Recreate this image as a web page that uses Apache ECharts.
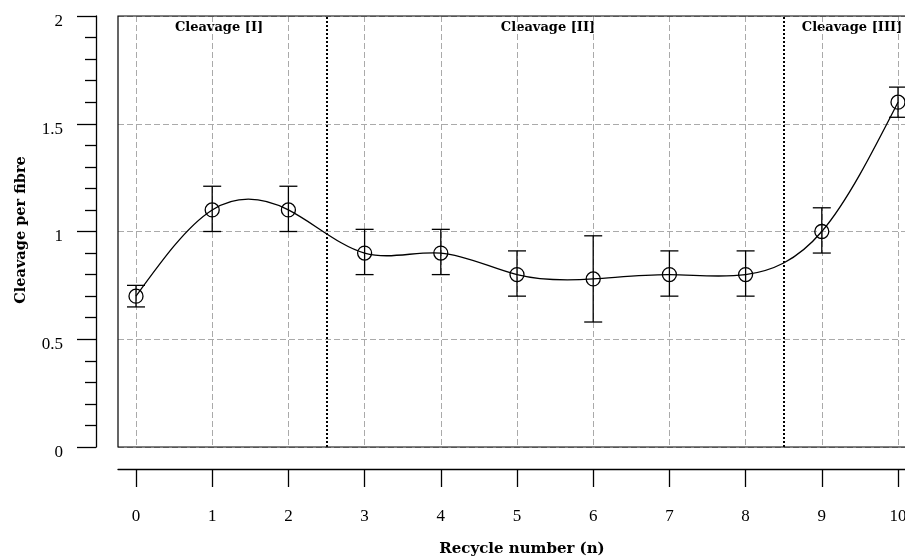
<!DOCTYPE html>
<html><head><meta charset="utf-8">
<script src="https://cdn.jsdelivr.net/npm/echarts@6/dist/echarts.min.js"></script>
<style>html,body{margin:0;padding:0;background:#fff}#c{width:905px;height:560px}</style>
</head><body><div id="c"></div>
<script>
const cycles = [0,1,2,3,4,5,6,7,8,9,10];
const meanVals = [0.70,1.10,1.10,0.90,0.90,0.80,0.78,0.80,0.80,1.00,1.60];
const lowVals  = [0.65,1.00,1.00,0.80,0.80,0.70,0.58,0.70,0.70,0.90,1.53];
const highVals = [0.75,1.21,1.21,1.01,1.01,0.91,0.98,0.91,0.91,1.11,1.67];
const regionBounds = [2.5, 8.5];
const regionLabels = ['Cleavage [I]','Cleavage [II]','Cleavage [III]'];
const yTicks = ['0','0.5','1','1.5','2'];

const FONT = 'Liberation Serif';
const TFONT = 'DejaVu Serif';
const chart = echarts.init(document.getElementById('c'));
const pts = cycles.map((c,i)=>[c, meanVals[i]]);
const errData = cycles.map((c,i)=>[c, meanVals[i], lowVals[i], highVals[i]]);

// natural cubic spline slopes (uniform spacing) for the fitted curve
function splineSlopes(y){
  const n = y.length - 1;
  const M = new Array(n+1).fill(0);
  if (n >= 2){
    const a=[],b=[],c=[],d=[];
    for(let i=1;i<n;i++){a.push(1);b.push(4);c.push(1);d.push(6*(y[i+1]-2*y[i]+y[i-1]));}
    const m=b.length;
    for(let i=1;i<m;i++){const w=a[i]/b[i-1];b[i]-=w*c[i-1];d[i]-=w*d[i-1];}
    const s=new Array(m);
    s[m-1]=d[m-1]/b[m-1];
    for(let i=m-2;i>=0;i--) s[i]=(d[i]-c[i]*s[i+1])/b[i];
    for(let i=0;i<m;i++) M[i+1]=s[i];
  }
  const sl=[];
  for(let i=0;i<n;i++) sl.push((y[i+1]-y[i])-(2*M[i]+M[i+1])/6);
  sl.push((y[n]-y[n-1])+(M[n-1]+2*M[n])/6);
  return sl;
}
const slopes = splineSlopes(meanVals);

chart.setOption({
  animation:false,
  backgroundColor:'#fff',
  grid:[
    {left:136, right:7, top:16, bottom:113, containLabel:false, outerBoundsMode:'none'},
    {left:118, width:800, top:16, bottom:113, containLabel:false, outerBoundsMode:'none', show:true, borderColor:'#000', borderWidth:1.2, backgroundColor:'transparent', z:5}
  ],
  xAxis:[
    {gridIndex:0, type:'value', min:0, max:10, interval:1, offset:22,
     axisLine:{show:false, onZero:false},
     axisTick:{show:true, length:18, lineStyle:{color:'#000', width:1.3}},
     axisLabel:{margin:39, color:'#000', fontFamily:FONT, fontSize:17},
     splitLine:{show:true, lineStyle:{color:'#aaa', type:[6,3], width:1}}},
    {gridIndex:1, type:'value', min:-0.24, max:10.24, offset:22,
     axisLine:{show:true, onZero:false, lineStyle:{color:'#000', width:1.3}},
     axisTick:{show:false}, axisLabel:{show:false}, splitLine:{show:false}}
  ],
  yAxis:[
    {gridIndex:0, type:'value', min:0, max:2, show:false, axisLine:{onZero:false}},
    {gridIndex:1, type:'value', min:0, max:2, interval:0.5, offset:22,
     axisLine:{show:true, onZero:false, lineStyle:{color:'#000', width:1.3}},
     axisTick:{show:true, length:19, lineStyle:{color:'#000', width:1.3}},
     minorTick:{show:true, splitNumber:5, length:11, lineStyle:{color:'#000', width:1.3}},
     axisLabel:{margin:33, color:'#000', fontFamily:FONT, fontSize:17,
       formatter:(v)=>{const i=Math.round(v/0.5);return '{t|'+(yTicks[i]!==undefined?yTicks[i]:'')+'}';},
       rich:{t:{fontFamily:FONT, fontSize:17, color:'#000', padding:[11,0,0,0]}}},
     splitLine:{show:true, lineStyle:{color:'#aaa', type:[6,3], width:1}}}
  ],
  series:[
    {type:'custom', xAxisIndex:0, yAxisIndex:0, data:pts, z:3,
     renderItem:(params, api)=>{
       const i = params.dataIndex;
       if (i >= pts.length-1) return null;
       const x0=pts[i][0], y0=pts[i][1], x1=pts[i+1][0], y1=pts[i+1][1];
       const h = x1-x0;
       const p0=api.coord([x0,y0]), p3=api.coord([x1,y1]);
       const c1=api.coord([x0+h/3, y0+slopes[i]*h/3]);
       const c2=api.coord([x1-h/3, y1-slopes[i+1]*h/3]);
       return {type:'bezierCurve', shape:{x1:p0[0],y1:p0[1],x2:p3[0],y2:p3[1],cpx1:c1[0],cpy1:c1[1],cpx2:c2[0],cpy2:c2[1]},
         style:{stroke:'#000', lineWidth:1.3, fill:null}};
     }},
    {type:'line', xAxisIndex:0, yAxisIndex:0, data:[], symbol:'none',
     markLine:{silent:true, symbol:'none', label:{show:false},
       lineStyle:{color:'#000', width:2, type:[2,2]},
       data: regionBounds.map(b=>({xAxis:b}))}},
    {type:'custom', xAxisIndex:0, yAxisIndex:0, data:errData, z:4,
     renderItem:(params, api)=>{
       const c = api.coord([api.value(0), api.value(1)]);
       const lo = api.coord([api.value(0), api.value(2)]);
       const hi = api.coord([api.value(0), api.value(3)]);
       const cap = 9, st = {stroke:'#000', lineWidth:1.3, fill:null};
       return {type:'group', children:[
         {type:'line', shape:{x1:c[0],y1:lo[1],x2:c[0],y2:hi[1]}, style:st},
         {type:'line', shape:{x1:c[0]-cap,y1:lo[1],x2:c[0]+cap,y2:lo[1]}, style:st},
         {type:'line', shape:{x1:c[0]-cap,y1:hi[1],x2:c[0]+cap,y2:hi[1]}, style:st},
         {type:'circle', shape:{cx:c[0],cy:c[1],r:7}, style:{stroke:'#000', lineWidth:1.3, fill:'none'}}
       ]};
     }}
  ],
  graphic:[
    {type:'text', x:219, y:28, style:{text:regionLabels[0], font:'bold 13px '+TFONT, fill:'#000', align:'center', verticalAlign:'middle'}},
    {type:'text', x:548, y:28, style:{text:regionLabels[1], font:'bold 13px '+TFONT, fill:'#000', align:'center', verticalAlign:'middle'}},
    {type:'text', x:852, y:28, style:{text:regionLabels[2], font:'bold 13px '+TFONT, fill:'#000', align:'center', verticalAlign:'middle'}},
    {type:'text', x:522, y:549, style:{text:'Recycle number (n)', font:'bold 15px '+TFONT, fill:'#000', align:'center', verticalAlign:'middle'}},
    {type:'text', x:21, y:230, rotation:Math.PI/2, style:{text:'Cleavage per fibre', font:'bold 14.5px '+TFONT, fill:'#000', align:'center', verticalAlign:'middle'}}
  ]
});
</script></body></html>
